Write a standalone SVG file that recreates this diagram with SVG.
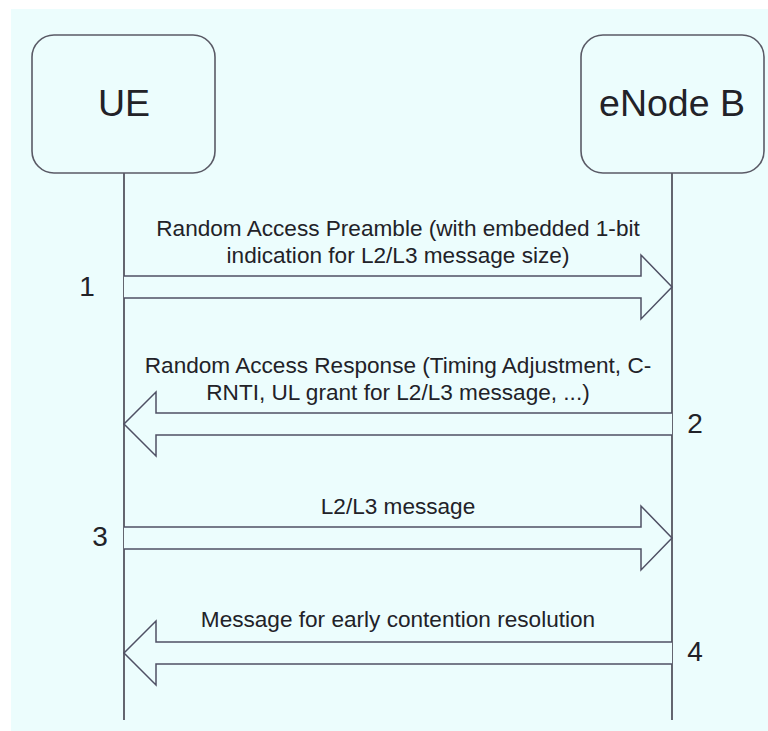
<svg xmlns="http://www.w3.org/2000/svg" width="768" height="731" viewBox="0 0 768 731">
  <style>
    .box { fill: #ecfdfd; stroke: #5a5a66; stroke-width: 1.6; }
    .life { stroke: #555560; stroke-width: 1.8; fill: none; }
    .arrow { fill: #ecfdfd; stroke: #4f5064; stroke-width: 1.5; stroke-linejoin: miter; }
    .title { font-family: "Liberation Sans", Arial, sans-serif; font-size: 37.5px; fill: #222228; text-anchor: middle; }
    .lbl { font-family: "Liberation Sans", Arial, sans-serif; font-size: 22.6px; fill: #222228; text-anchor: middle; }
    .num { font-family: "Liberation Sans", Arial, sans-serif; font-size: 28px; fill: #222228; text-anchor: middle; }
  </style>
  <rect x="0" y="0" width="768" height="731" fill="#ffffff"/>
  <rect x="11" y="9" width="757" height="722" fill="#ecfdfd"/>

  <g id="lifelines">
    <line class="life" x1="124" y1="173" x2="124" y2="720"/>
    <line class="life" x1="672" y1="173" x2="672" y2="720"/>
  </g>

  <g id="node-ue">
    <rect class="box" x="32" y="35" width="183" height="138" rx="22" ry="22"/>
    <text class="title" x="124" y="116">UE</text>
  </g>

  <g id="node-enb">
    <rect class="box" x="581" y="35" width="183" height="138" rx="22" ry="22"/>
    <text class="title" x="672" y="116">eNode B</text>
  </g>

  <g id="connectors">
    <g id="msg1">
      <path class="arrow" d="M124,276 H641 V255 L672,287 L641,319 V298 H124"/>
      <text class="lbl" x="398" y="236">Random Access Preamble (with embedded 1-bit</text>
      <text class="lbl" x="398" y="263">indication for L2/L3 message size)</text>
      <text class="num" x="87" y="296">1</text>
    </g>
    <g id="msg2">
      <path class="arrow" d="M672,413 H156 V392 L124,424 L156,456 V435 H672"/>
      <text class="lbl" x="398" y="373">Random Access Response (Timing Adjustment, C-</text>
      <text class="lbl" x="398" y="400">RNTI, UL grant for L2/L3 message, ...)</text>
      <text class="num" x="695" y="433">2</text>
    </g>
    <g id="msg3">
      <path class="arrow" d="M124,527 H641 V506 L672,538 L641,570 V549 H124"/>
      <text class="lbl" x="398" y="514">L2/L3 message</text>
      <text class="num" x="100" y="546">3</text>
    </g>
    <g id="msg4">
      <path class="arrow" d="M672,642 H156 V621 L124,653 L156,685 V664 H672"/>
      <text class="lbl" x="398" y="627">Message for early contention resolution</text>
      <text class="num" x="695" y="661">4</text>
    </g>
  </g>
</svg>
